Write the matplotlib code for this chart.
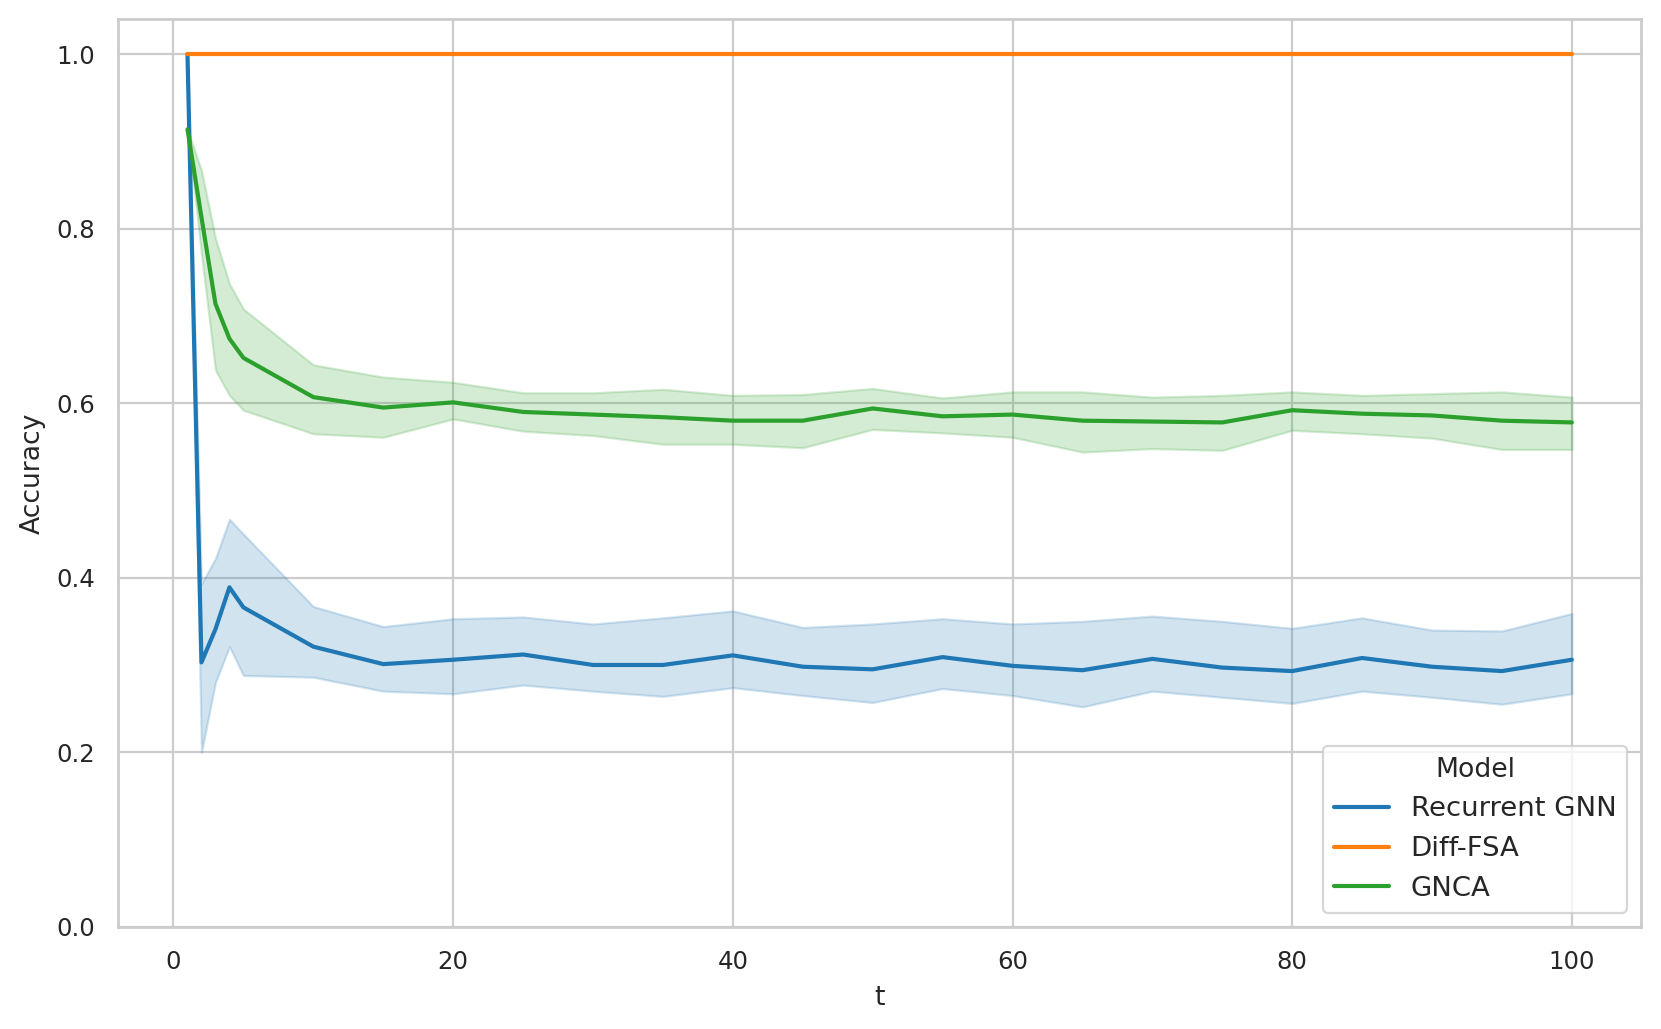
import numpy as np
import matplotlib
matplotlib.use("Agg")
import matplotlib.pyplot as plt
import seaborn as sns

# time steps
t = [1, 2, 3, 4, 5, 10, 15, 20, 25, 30, 35, 40, 45, 50, 55,
     60, 65, 70, 75, 80, 85, 90, 95, 100]

# Recurrent GNN: mean and CI band
rgnn_mean = [1.0, 0.303, 0.341, 0.389, 0.366, 0.321, 0.301, 0.306, 0.312, 0.300,
             0.300, 0.311, 0.298, 0.295, 0.309, 0.299, 0.294, 0.307, 0.297, 0.293,
             0.308, 0.298, 0.293, 0.306]
rgnn_lo = [1.0, 0.200, 0.280, 0.321, 0.288, 0.286, 0.270, 0.267, 0.277, 0.270,
           0.264, 0.274, 0.265, 0.257, 0.273, 0.265, 0.252, 0.270, 0.263, 0.256,
           0.270, 0.263, 0.255, 0.267]
rgnn_hi = [1.0, 0.393, 0.422, 0.467, 0.450, 0.367, 0.344, 0.353, 0.355, 0.347,
           0.354, 0.362, 0.343, 0.347, 0.353, 0.347, 0.350, 0.356, 0.350, 0.342,
           0.354, 0.340, 0.339, 0.359]

# Diff-FSA is perfect everywhere
fsa_mean = [1.0] * len(t)

# GNCA
gnca_mean = [0.914, 0.813, 0.714, 0.674, 0.652, 0.607, 0.595, 0.601, 0.590, 0.587,
             0.584, 0.580, 0.580, 0.594, 0.585, 0.587, 0.580, 0.579, 0.578, 0.592,
             0.588, 0.586, 0.580, 0.578]
gnca_lo = [0.914, 0.771, 0.638, 0.609, 0.592, 0.565, 0.561, 0.582, 0.568, 0.563,
           0.553, 0.553, 0.549, 0.570, 0.566, 0.561, 0.544, 0.548, 0.546, 0.569,
           0.565, 0.560, 0.547, 0.547]
gnca_hi = [0.914, 0.867, 0.789, 0.737, 0.708, 0.644, 0.630, 0.624, 0.612, 0.612,
           0.616, 0.609, 0.610, 0.617, 0.606, 0.613, 0.613, 0.607, 0.609, 0.613,
           0.609, 0.611, 0.613, 0.607]

models = ["Recurrent GNN", "Diff-FSA", "GNCA"]

sns.set_theme(style="whitegrid", context="paper")

fig, ax = plt.subplots(figsize=(8.305, 5.145), dpi=200)
fig.subplots_adjust(left=0.0712, right=0.988, top=0.9812, bottom=0.0994)

colors = sns.color_palette("tab10")
series = [
    (rgnn_mean, rgnn_lo, rgnn_hi),
    (fsa_mean, fsa_mean, fsa_mean),
    (gnca_mean, gnca_lo, gnca_hi),
]

for name, (m, lo, hi), c in zip(models, series, colors):
    ax.plot(t, m, color=c, label=name, linewidth=1.5)
    ax.fill_between(t, lo, hi, color=c, alpha=0.2)

ax.set_ylim(bottom=0)
ax.set_xlabel("t")
ax.set_ylabel("Accuracy")
ax.legend(title="Model", loc="lower right", fontsize=9.9, title_fontsize=9.6)

fig.savefig("out.png", dpi=200)
